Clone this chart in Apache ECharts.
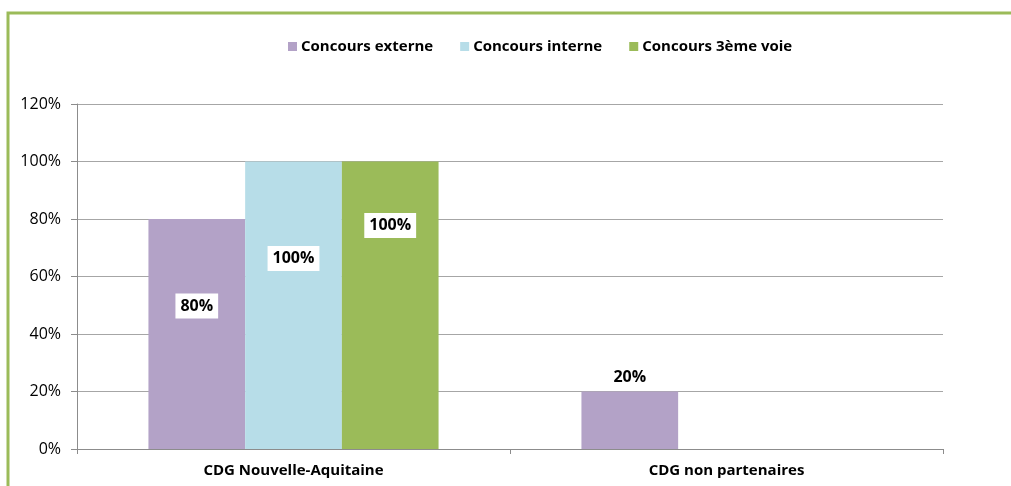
<!DOCTYPE html>
<html><head><meta charset="utf-8">
<script src="https://cdn.jsdelivr.net/npm/echarts@6/dist/echarts.min.js"></script>
<style>html,body{margin:0;padding:0;background:#fff}#c{width:1011px;height:486px}</style>
</head><body><div id="c"></div>
<script>
const categories = ['CDG Nouvelle-Aquitaine', 'CDG non partenaires'];
const seriesNames = ['Concours externe', 'Concours interne', 'Concours 3ème voie'];
const externe = [80, 20];
const interne = [100, null];
const troisieme = [100, null];
const yTicks = [0, 20, 40, 60, 80, 100, 120];
const colors = ['#B3A2C7', '#B7DDE8', '#9BBB59'];
const font = 'Open Sans, Noto Sans, sans-serif';

// label placement (style only): offset from bar top in px for inside labels
const insideOffsets = [[87, null], [97, null], [64, null]];

const allData = [externe, interne, troisieme];
const series = allData.map((arr, si) => ({
  name: seriesNames[si],
  type: 'bar',
  barGap: '0%',
  barCategoryGap: '33%',
  itemStyle: { color: colors[si] },
  data: arr.map((v, i) => {
    if (v === null) return null;
    const off = insideOffsets[si][i];
    const label = off !== null ? {
      show: true, position: ['50%', off], align: 'center', verticalAlign: 'middle',
      backgroundColor: '#fff', padding: [5, 5, 4, 5]
    } : { show: true, position: 'top', distance: 6 };
    return { value: v, label };
  }),
  label: {
    show: true, formatter: p => p.value + '%',
    fontFamily: font, fontWeight: 'bold', fontSize: 16, color: '#000'
  }
}));

const chart = echarts.init(document.getElementById('c'));
chart.setOption({
  animation: false,
  backgroundColor: '#fff',
  graphic: [{
    type: 'rect', shape: { x: 8, y: 13, width: 1010, height: 480 },
    style: { fill: 'none', stroke: '#9BBB59', lineWidth: 3 }, silent: true, z: 100
  }],
  legend: {
    top: 34, left: 283, itemWidth: 9, itemHeight: 9, itemGap: 27,
    icon: 'rect',
    textStyle: { fontFamily: font, fontWeight: 'bold', fontSize: 15, color: '#000', padding: [0, 0, 0, -1] },
    data: seriesNames
  },
  grid: { left: 77, right: 68, top: 104, bottom: 37, containLabel: false },
  xAxis: {
    type: 'category', data: categories,
    axisLine: { lineStyle: { color: '#8c8c8c', width: 1 } },
    axisTick: { show: true, length: 5, lineStyle: { color: '#8c8c8c' } },
    axisLabel: { fontFamily: font, fontWeight: 'bold', fontSize: 15, color: '#000', margin: 14 }
  },
  yAxis: {
    type: 'value', min: 0, max: 120, interval: 20,
    axisLine: { show: true, lineStyle: { color: '#8c8c8c' } },
    axisTick: { show: true, length: 6, lineStyle: { color: '#8c8c8c' } },
    splitLine: { lineStyle: { color: '#a6a6a6' } },
    axisLabel: {
      fontFamily: font, fontSize: 16, color: '#000', margin: 16,
      formatter: v => yTicks.includes(v) ? v + '%' : ''
    }
  },
  series
});
</script></body></html>
